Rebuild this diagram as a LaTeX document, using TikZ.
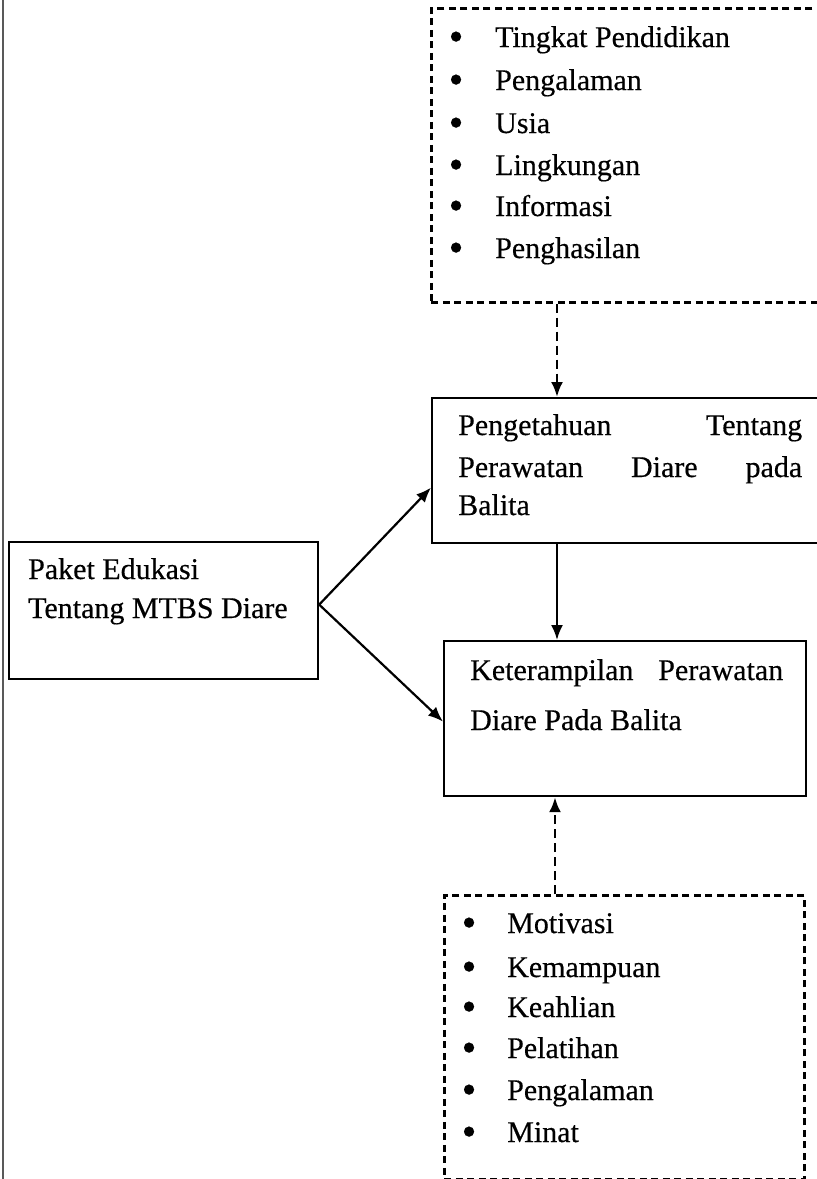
\documentclass[tikz,border=0pt]{standalone}
\usepackage{fontspec}
\setmainfont{Liberation Serif}[FakeBold=0.4]
\usetikzlibrary{arrows.meta}
\newcommand{\blt}[1]{\makebox[#1][l]{\hspace{-2.5pt}\raisebox{-3.5pt}{\fontsize{42}{42}\selectfont•}}}
\begin{document}
\begin{tikzpicture}[x=1pt,y=-1pt,
  txt/.style={anchor=base west,inner sep=0pt,font=\fontsize{30}{36}\selectfont},
  solidbox/.style={draw,line width=2.2pt,inner sep=0pt,anchor=north west},
  dashbox/.style={draw,line width=2.6pt,dash pattern=on 7pt off 4.5pt,inner sep=0pt,anchor=north west},
  arr/.style={line width=2.2pt,-{Latex[length=15pt,width=12pt]}},
  darr/.style={line width=2.6pt,dash pattern=on 9pt off 5pt,-{Latex[length=15pt,width=12pt]}},
]
\useasboundingbox (0,0) rectangle (817,1179);
\fill[white] (0,0) rectangle (817,1179);
% page edge line
\draw[line width=1.2pt,black!65] (3,0) -- (3,1179);

% boxes
\node[dashbox,minimum width=400pt,minimum height=294pt] (faktorA) at (430,7) {};
\node[solidbox,minimum width=399pt,minimum height=145pt] (pk) at (431,397) {};
\node[solidbox,minimum width=309pt,minimum height=137pt] (paket) at (8,541) {};
\node[solidbox,minimum width=362pt,minimum height=155pt] (ket) at (443,640) {};
\node[dashbox,minimum width=360pt,minimum height=284pt] (faktorB) at (443,894) {};

% texts
\node[txt] (a1) at (451,47)  {\blt{44pt}Tingkat Pendidikan};
\node[txt] (a2) at (451,90)  {\blt{44pt}Pengalaman};
\node[txt] (a3) at (451,133) {\blt{44pt}Usia};
\node[txt] (a4) at (451,175) {\blt{44pt}Lingkungan};
\node[txt] (a5) at (451,216) {\blt{44pt}Informasi};
\node[txt] (a6) at (451,258) {\blt{44pt}Penghasilan};

\node[txt] (pk1) at (458,435) {\makebox[344pt][s]{Pengetahuan Tentang}};
\node[txt] (pk2) at (458,477) {\makebox[344pt][s]{Perawatan Diare pada}};
\node[txt] (pk3) at (458,515) {Balita};

\node[txt] (p1) at (28,579) {Paket Edukasi};
\node[txt] (p2) at (28,618) {Tentang MTBS Diare};

\node[txt] (k1) at (470,680) {\makebox[313pt][s]{Keterampilan Perawatan}};
\node[txt] (k2) at (470,730) {Diare Pada Balita};

\node[txt] (b1) at (464,933)  {\blt{43pt}Motivasi};
\node[txt] (b2) at (464,977)  {\blt{43pt}Kemampuan};
\node[txt] (b3) at (464,1017) {\blt{43pt}Keahlian};
\node[txt] (b4) at (464,1058) {\blt{43pt}Pelatihan};
\node[txt] (b5) at (464,1100) {\blt{43pt}Pengalaman};
\node[txt] (b6) at (464,1142) {\blt{43pt}Minat};

% connectors
\coordinate (colA) at (557,0);
\coordinate (colB) at (555,0);
\draw[darr] (faktorA.south -| colA) -- (pk.north -| colA);
\draw[arr] (pk.south -| colA) -- (ket.north -| colA);
\draw[darr] (faktorB.north -| colB) -- (ket.south -| colB);
\draw[arr] ([yshift=6pt]paket.east) -- ([yshift=-17pt]pk.west);
\draw[arr] ([yshift=6pt]paket.east) -- ([yshift=-3pt]ket.west);
\end{tikzpicture}
\end{document}
